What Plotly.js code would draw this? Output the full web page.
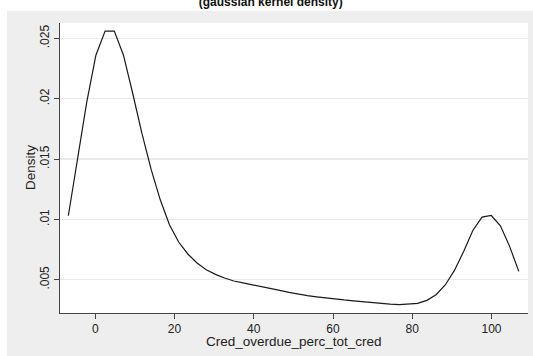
<!DOCTYPE html>
<html>
<head>
<meta charset="utf-8">
<script src="https://cdn.plot.ly/plotly-3.0.1.min.js"></script>
<style>html,body{margin:0;padding:0;background:#fff;}#chart{width:533px;height:356px;}</style>
</head>
<body>
<div id="chart"></div>
<script>
// Kernel density estimate points
const xGrid = [-6.8, -4.48, -2.16, 0.16, 2.48, 4.8, 7.12, 9.44, 11.76, 14.08,
  16.4, 18.72, 21.04, 23.36, 25.68, 28.0, 30.32, 32.64, 34.96, 37.28,
  39.6, 41.92, 44.24, 46.56, 48.88, 51.2, 53.52, 55.84, 58.16, 60.48,
  62.8, 65.12, 67.44, 69.76, 72.08, 74.4, 76.72, 79.04, 81.36, 83.68,
  86.0, 88.32, 90.64, 92.96, 95.28, 97.6, 99.92, 102.24, 104.56, 106.88];
const density = [0.0103, 0.0151, 0.0197, 0.0236, 0.0256, 0.0256, 0.0236, 0.02045, 0.01714, 0.01416,
  0.01162, 0.00955, 0.00812, 0.00713, 0.00638, 0.00583, 0.00544, 0.00514, 0.00489, 0.00473,
  0.00456, 0.00445, 0.00428, 0.00411, 0.00395, 0.00380, 0.00368, 0.00358, 0.00348, 0.0034,
  0.00332, 0.00325, 0.00317, 0.00308, 0.00303, 0.00297, 0.00294, 0.00296, 0.00304, 0.00329,
  0.00376, 0.00456, 0.00577, 0.00734, 0.00908, 0.01019, 0.01032, 0.00947, 0.00776, 0.00569];
const xTicks = [0, 20, 40, 60, 80, 100];
const yTickVals = [0.005, 0.01, 0.015, 0.02, 0.025];
const yTickText = [".005", ".01", ".015", ".02", ".025"];
const titleText = "(gaussian kernel density)";
const xTitle = "Cred_overdue_perc_tot_cred";
const yTitle = "Density";

const W = 533, H = 356;
const m = {l: 60, r: 5, t: 23, b: 43};
const pw = W - m.l - m.r, ph = H - m.t - m.b;
const font = "Liberation Sans, Arial, sans-serif";

const trace = {
  x: xGrid, y: density, type: 'scatter', mode: 'lines',
  line: {color: '#1a1a1a', width: 1.2}, hoverinfo: 'skip', showlegend: false
};

const layout = {
  width: W, height: H,
  margin: m,
  paper_bgcolor: '#ffffff', plot_bgcolor: '#ffffff',
  font: {family: font, size: 12, color: '#222'},
  title: {text: '<b>' + titleText + '</b>', font: {family: font, size: 12, color: '#111'},
    xref: 'container', yref: 'container', x: 0.508, xanchor: 'center', y: 0.995, yanchor: 'middle'},
  shapes: [
    {type: 'rect', layer: 'below', xref: 'paper', yref: 'paper',
     x0: (7 - m.l) / pw, x1: (W - m.l) / pw + 0.01, y0: -(m.b + 2) / ph, y1: 1 + 12 / ph,
     fillcolor: '#eeeeee', line: {width: 0}},
    {type: 'rect', layer: 'below', xref: 'paper', yref: 'paper',
     x0: 0, x1: 1, y0: 0, y1: 1, fillcolor: '#ffffff', line: {width: 0}}
  ],
  annotations: [
    {text: xTitle, xref: 'paper', yref: 'paper', x: 0.5, xanchor: 'center',
     y: -(341 - (H - m.b)) / ph, yanchor: 'middle', showarrow: false,
     font: {size: 13.5, color: '#222'}},
    {text: yTitle, xref: 'paper', yref: 'paper', x: (30 - m.l) / pw, xanchor: 'center',
     y: 0.5, yanchor: 'middle', textangle: -90, showarrow: false,
     font: {size: 13.5, color: '#222'}}
  ],
  xaxis: {
    range: [-8.9, 109.2], tickvals: xTicks, ticktext: xTicks.map(String),
    showgrid: false, zeroline: false, showline: true, linecolor: '#444', linewidth: 1,
    ticks: 'outside', ticklen: 5, tickcolor: '#444', tickwidth: 1,
    tickfont: {size: 12, color: '#222'}
  },
  yaxis: {
    range: [0.00224, 0.02627], tickvals: yTickVals, ticktext: yTickText, tickangle: -90,
    showgrid: true, gridcolor: '#eaeaea', gridwidth: 1.5, zeroline: false,
    showline: true, linecolor: '#444', linewidth: 1,
    ticks: 'outside', ticklen: 5, tickcolor: '#444', tickwidth: 1,
    tickfont: {size: 12, color: '#222'}
  }
};

Plotly.newPlot('chart', [trace], layout, {staticPlot: true, displayModeBar: false});
</script>
</body>
</html>
